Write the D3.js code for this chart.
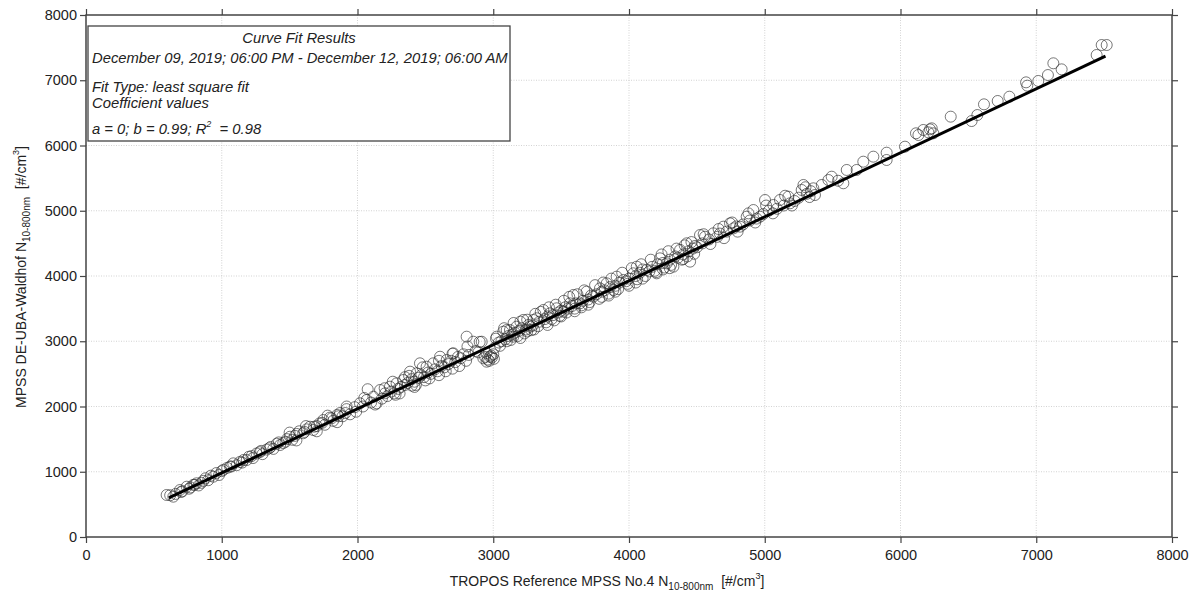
<!DOCTYPE html>
<html>
  <head>
    <meta charset="utf-8" />
    <title>MPSS intercomparison scatter</title>
    <script src="https://d3js.org/d3.v7.min.js" charset="utf-8"></script>
    <style>
      html,
      body {
        margin: 0;
        padding: 0;
        background-color: white;
        font-family: "Liberation Sans", Arial, sans-serif;
      }
      .tick text {
        font-family: "Liberation Sans", Arial, sans-serif;
        font-size: 14.5px;
        fill: #222;
      }
      .tick line {
        stroke: #444;
        stroke-width: 1.2;
      }
    </style>
  </head>

  <body>
    <svg id="chart"></svg>

    <script>
      // Measured points: x = TROPOS reference, y = DE-UBA-Waldhof
      const refValues = [
        594, 643, 660, 692, 710, 742, 760, 791, 815, 830, 864, 880, 900, 938, 960, 980, 1012, 1040,
        1061, 1085, 1110, 1134, 1160, 1184, 1200, 1230, 1257, 1280, 1300, 1331, 1360, 1380, 1405,
        1430, 1453, 1480, 1503, 1520, 1552, 1570, 1600, 1626, 1650, 1674, 1700, 1720, 1748, 1760,
        1797, 1820, 1850, 1871, 1890, 1920, 1945, 1980, 2018, 2040, 2068, 2075, 2100, 2117, 2141,
        2166, 2180, 2203, 2220, 2239, 2250, 2270, 2288, 2300, 2320, 2337, 2350, 2370, 2387, 2400,
        2420, 2436, 2450, 2460, 2470, 2490, 2509, 2520, 2540, 2558, 2570, 2590, 2608, 2620, 2640,
        2657, 2670, 2690, 2706, 2720, 2740, 2760, 2780, 2804, 2820, 2853, 2870, 2890, 2915, 2927,
        2940, 2951, 2960, 2976, 2990, 3000, 3010, 3025, 3040, 3060, 3074, 3090, 3099, 3110, 3123,
        3140, 3148, 3160, 3172, 3190, 3210, 3221, 3240, 3260, 3271, 3290, 3295, 3320, 3340, 3369,
        3380, 3400, 3418, 3440, 3467, 3480, 3500, 3516, 3530, 3550, 3565, 3580, 3590, 3610, 3639,
        3660, 3688, 3700, 3720, 3737, 3760, 3786, 3800, 3820, 3836, 3860, 3885, 3900, 3909, 3930,
        3958, 3980, 4000, 4032, 4050, 4057, 4080, 4100, 4130, 4150, 4170, 4204, 4210, 4228, 4250,
        4278, 4300, 4327, 4340, 4360, 4376, 4400, 4425, 4440, 4450, 4470, 4486, 4500, 4523, 4540,
        4560, 4590, 4621, 4650, 4670, 4695, 4720, 4744, 4770, 4790, 4818, 4840, 4867, 4890, 4916,
        4940, 4965, 4990, 5002, 5030, 5063, 5090, 5112, 5140, 5174, 5186, 5220, 5250, 5272, 5285,
        5310, 5340, 5358, 5370, 5420, 5469, 5493, 5540, 5579, 5604, 5677, 5726, 5800, 5898, 5898,
        6033, 6114, 6132, 6168, 6205, 6217, 6230, 6242, 6370, 6524, 6566, 6615, 6716, 6802, 6925,
        6934, 7015, 7086, 7126, 7187, 7445, 7482, 7519,
        2260, 2310, 2380, 2430, 2480, 2530, 2600, 2650, 2700, 2750, 2810, 2900, 2950, 2970, 2985,
        3005, 3020, 3050, 3080, 3130, 3150, 3180, 3200, 3230, 3250, 3280, 3310, 3330, 3350, 3390,
        3410, 3430, 3460, 3490, 3520, 3540, 3560, 3600, 3620, 3650, 3670, 3710, 3750, 3780, 3810,
        3850, 3870, 3920, 3950, 3990, 4020, 4060, 4090, 4120, 4160, 4190, 4240, 4260, 4290, 4310,
        4350, 4390, 4410, 4430, 4460, 4480,
        620, 700, 770, 800, 850, 920, 1000, 1070, 1150, 1220, 1290, 1350, 1420, 1470, 1540, 1610,
        1680, 1740, 1810, 1860, 1910,
        1500, 1550, 1620, 1700, 1780, 1850, 1920, 1990, 2050, 2130, 2200, 2280, 2350, 2420, 4550,
        4600, 4660, 4700, 4760, 4800, 4880, 4930, 5010, 5060, 5150, 5200, 5300, 5330,
        3100, 3200, 3300, 3400, 3500, 3600, 3700, 3800, 3900, 4000, 4100, 4200, 4300, 4400, 2600,
        2700, 2800, 2500, 2400, 3250, 3450, 3650, 3850, 4050, 4250
      ];
      const siteValues = [
        644, 618, 660, 720, 700, 771, 740, 800, 823, 790, 860, 900, 870, 924, 980, 950, 1030, 1060,
        1080, 1129, 1100, 1150, 1180, 1180, 1230, 1210, 1280, 1300, 1270, 1340, 1380, 1350, 1430,
        1410, 1440, 1500, 1537, 1490, 1580, 1620, 1590, 1650, 1690, 1640, 1700, 1740, 1793, 1720,
        1830, 1780, 1870, 1900, 1850, 1960, 1880, 1990, 2049, 2000, 2100, 2265, 2060, 2150, 2049,
        2253, 2120, 2202, 2160, 2304, 2230, 2200, 2355, 2270, 2300, 2406, 2330, 2360, 2534, 2420,
        2380, 2509, 2440, 2662, 2480, 2450, 2610, 2520, 2500, 2662, 2570, 2540, 2763, 2620, 2600,
        2713, 2650, 2700, 2815, 2680, 2760, 2740, 2800, 3070, 2790, 2993, 2850, 2830, 2993, 2739,
        2760, 2687, 2720, 2763, 2750, 2800, 2900, 3070, 2980, 3000, 3147, 3030, 3172, 3080, 3172,
        3100, 3070, 3130, 3223, 3160, 3200, 3326, 3180, 3250, 3223, 3240, 3326, 3352, 3300, 3479,
        3340, 3380, 3428, 3400, 3505, 3440, 3470, 3453, 3520, 3500, 3581, 3540, 3709, 3580, 3581,
        3620, 3760, 3640, 3700, 3683, 3720, 3811, 3760, 3780, 3888, 3830, 3785, 3850, 3990, 3900,
        3939, 3920, 3960, 4041, 4000, 4143, 4050, 4100, 4092, 4070, 4140, 4041, 4180, 4271, 4200,
        4194, 4250, 4143, 4300, 4280, 4400, 4330, 4501, 4380, 4220, 4420, 4460, 4440, 4628, 4500,
        4602, 4560, 4654, 4600, 4650, 4756, 4680, 4807, 4730, 4760, 4756, 4790, 4909, 4850, 5011,
        4880, 4909, 4950, 5165, 5000, 5088, 5030, 5165, 5080, 5216, 5114, 5150, 5200, 5318, 5395,
        5260, 5300, 5344, 5241, 5395, 5471, 5522, 5460, 5421, 5625, 5625, 5752, 5829, 5778, 5890,
        5982, 6187, 6161, 6238, 6202, 6248, 6263, 6187, 6442, 6375, 6467, 6631, 6682, 6748, 6968,
        6917, 6989, 7080, 7260, 7167, 7387, 7540, 7540,
        2380, 2200, 2470, 2330, 2600, 2430, 2700, 2540, 2810, 2620, 2920, 2990, 2820, 2700, 2780,
        2730, 3040, 2930, 3200, 3020, 3280, 3080, 3300, 3120, 3330, 3170, 3420, 3230, 3450, 3290,
        3520, 3340, 3560, 3390, 3620, 3440, 3680, 3500, 3720, 3550, 3780, 3600, 3860, 3650, 3900,
        3730, 3960, 3800, 4050, 3880, 4120, 3950, 4180, 4000, 4250, 4080, 4330, 4130, 4380, 4170,
        4420, 4250, 4470, 4300, 4520, 4340,
        640, 690, 760, 800, 830, 940, 1010, 1080, 1140, 1240, 1320, 1360, 1450, 1460, 1550, 1610,
        1690, 1750, 1820, 1850, 1900,
        1600, 1480, 1700, 1620, 1860, 1760, 2000, 1920, 2130, 2030, 2280, 2180, 2450, 2300, 4640,
        4490, 4720, 4580, 4820, 4680, 4960, 4820, 5080, 4960, 5230, 5080, 5360, 5210,
        3000, 3050, 3180, 3250, 3380, 3460, 3560, 3680, 3760, 3850, 3960, 4060, 4120, 4260, 2480,
        2580, 2700, 2400, 2320, 3150, 3320, 3520, 3700, 3900, 4100
      ];

      // Fitted line end points
      const fitX = [610, 7510];
      const fitY = [600, 7370];

      const tickValues = [0, 1000, 2000, 3000, 4000, 5000, 6000, 7000, 8000];

      const boxLines = [
        "Curve Fit Results",
        "December 09, 2019; 06:00 PM - December 12, 2019; 06:00 AM",
        "Fit Type: least square fit",
        "Coefficient values"
      ];

      // SVG size and margins
      const width = 1197;
      const height = 599;
      const lmargin = 86;
      const rmargin = 25;
      const tmargin = 15;
      const bmargin = 62;
      const graphWidth = width - lmargin - rmargin;
      const graphHeight = height - tmargin - bmargin;

      const svg = d3
        .select("#chart")
        .attr("width", width)
        .attr("height", height)
        .style("background", "white");

      const plotArea = svg
        .append("g")
        .attr("transform", `translate(${lmargin},${tmargin})`);

      const xScale = d3.scaleLinear().domain([0, 8000]).range([0, graphWidth]);
      const yScale = d3.scaleLinear().domain([0, 8000]).range([graphHeight, 0]);
      const fmt = d3.format("d");

      // Dotted grid
      plotArea
        .append("g")
        .selectAll("line")
        .data(tickValues.slice(1, -1))
        .enter()
        .append("line")
        .attr("x1", (d) => xScale(d))
        .attr("x2", (d) => xScale(d))
        .attr("y1", 0)
        .attr("y2", graphHeight)
        .attr("stroke", "#c8c8c8")
        .attr("stroke-width", 0.8)
        .attr("stroke-dasharray", "1,1.5");
      plotArea
        .append("g")
        .selectAll("line")
        .data(tickValues.slice(1, -1))
        .enter()
        .append("line")
        .attr("y1", (d) => yScale(d))
        .attr("y2", (d) => yScale(d))
        .attr("x1", 0)
        .attr("x2", graphWidth)
        .attr("stroke", "#c8c8c8")
        .attr("stroke-width", 0.8)
        .attr("stroke-dasharray", "1,1.5");

      // Axes on all four sides, ticks pointing outward
      const xAxis = d3.axisBottom(xScale).tickValues(tickValues).tickFormat(fmt).tickSize(6);
      const yAxis = d3.axisLeft(yScale).tickValues(tickValues).tickFormat(fmt).tickSize(6).tickPadding(3);
      const gx = plotArea
        .append("g")
        .attr("transform", `translate(0,${graphHeight})`)
        .call(xAxis);
      const gy = plotArea.append("g").call(yAxis);
      const gTop = plotArea
        .append("g")
        .call(d3.axisTop(xScale).tickValues(tickValues).tickSize(6).tickFormat(""));
      const gRight = plotArea
        .append("g")
        .attr("transform", `translate(${graphWidth},0)`)
        .call(d3.axisRight(yScale).tickValues(tickValues).tickSize(6).tickFormat(""));
      [gx, gy, gTop, gRight].forEach((g) => g.select(".domain").remove());
      gx.selectAll("text").attr("dy", "0.71em").attr("y", 13);

      // Frame
      plotArea
        .append("rect")
        .attr("width", graphWidth)
        .attr("height", graphHeight)
        .attr("fill", "none")
        .attr("stroke", "#444")
        .attr("stroke-width", 1.5);

      // Scatter points
      const points = d3.zip(refValues, siteValues);
      plotArea
        .append("g")
        .selectAll("circle")
        .data(points)
        .enter()
        .append("circle")
        .attr("cx", (d) => xScale(d[0]))
        .attr("cy", (d) => yScale(d[1]))
        .attr("r", 5.5)
        .attr("fill", "none")
        .attr("stroke", "#2a2a2a")
        .attr("stroke-opacity", 0.8)
        .attr("stroke-width", 0.8);

      // Fit line
      plotArea
        .append("line")
        .attr("x1", xScale(fitX[0]))
        .attr("y1", yScale(fitY[0]))
        .attr("x2", xScale(fitX[1]))
        .attr("y2", yScale(fitY[1]))
        .attr("stroke", "black")
        .attr("stroke-width", 3);

      // Result box
      const box = svg.append("g");
      box
        .append("rect")
        .attr("x", 88)
        .attr("y", 26)
        .attr("width", 422)
        .attr("height", 115)
        .attr("fill", "white")
        .attr("stroke", "#444")
        .attr("stroke-width", 1.3);
      const boxY = [43, 63, 92, 108];
      boxLines.forEach((t, i) => {
        box
          .append("text")
          .attr("x", i === 0 ? 299 : 92)
          .attr("y", boxY[i])
          .attr("text-anchor", i === 0 ? "middle" : "start")
          .attr("font-size", 14.8)
          .attr("font-style", "italic")
          .attr("fill", "#222")
          .text(t);
      });
      const coefText = box
        .append("text")
        .attr("x", 92)
        .attr("y", 134)
        .attr("font-size", 14.8)
        .attr("font-style", "italic")
        .attr("fill", "#222");
      coefText.append("tspan").text("a = 0; b = 0.99; R");
      coefText.append("tspan").attr("dy", -7).attr("font-size", 9).text("2");
      coefText.append("tspan").attr("dy", 7).text("\u00a0 = 0.98");

      // X axis label
      const xLabel = svg
        .append("text")
        .attr("x", 607)
        .attr("y", 586)
        .attr("text-anchor", "middle")
        .attr("font-size", 14)
        .attr("fill", "#222");
      xLabel.append("tspan").text("TROPOS Reference MPSS No.4 N");
      xLabel.append("tspan").attr("dy", 4).attr("font-size", 10).text("10-800nm");
      xLabel.append("tspan").attr("dy", -4).text("\u00a0 [#/cm");
      xLabel.append("tspan").attr("dy", -7).attr("font-size", 9).text("3");
      xLabel.append("tspan").attr("dy", 7).text("]");

      // Y axis label
      const yLabel = svg
        .append("text")
        .attr("transform", "translate(26,277) rotate(-90)")
        .attr("text-anchor", "middle")
        .attr("font-size", 14)
        .attr("fill", "#222");
      yLabel.append("tspan").text("MPSS DE-UBA-Waldhof  N");
      yLabel.append("tspan").attr("dy", 4).attr("font-size", 10).text("10-800nm");
      yLabel.append("tspan").attr("dy", -4).text("\u00a0 [#/cm");
      yLabel.append("tspan").attr("dy", -7).attr("font-size", 9).text("3");
      yLabel.append("tspan").attr("dy", 7).text("]");
    </script>
  </body>
</html>
